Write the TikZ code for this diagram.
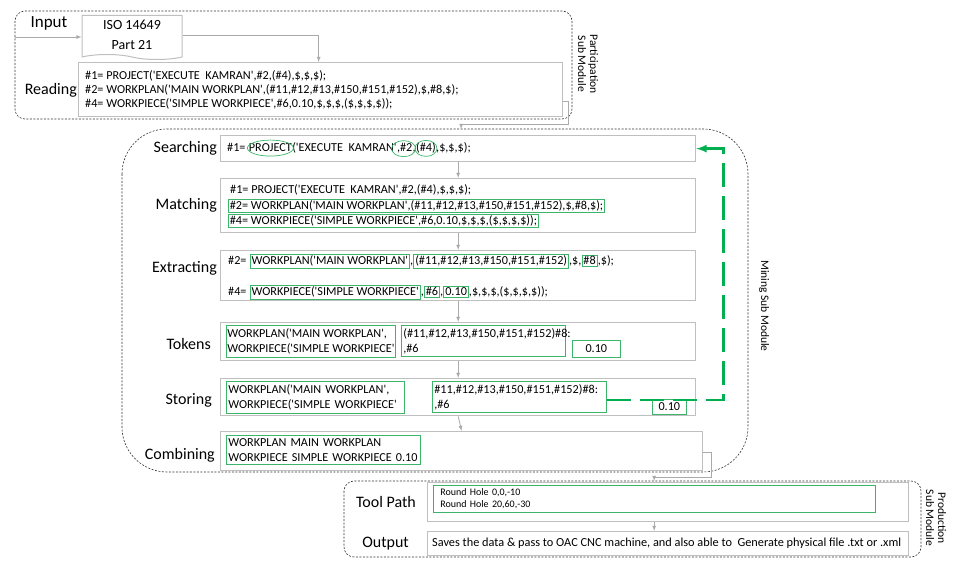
\documentclass[tikz,border=0pt]{standalone}
\usepackage{fontspec}
\setmainfont{Carlito}[Ligatures=TeXOff]
\usetikzlibrary{positioning,shapes.geometric,shapes.symbols}

\definecolor{boxgray}{RGB}{191,191,191}
\definecolor{arrgray}{RGB}{170,170,170}
\definecolor{tokgreen}{RGB}{60,180,105}
\definecolor{loopgreen}{RGB}{0,176,80}

\tikzset{
  grp/.style={draw=black!80, dash pattern=on 2pt off 1.5pt, line width=0.6pt},
  box/.style={draw=boxgray, line width=1.3pt, anchor=north west, inner sep=0pt},
  lbl/.style={font=\fontsize{16}{18}\selectfont, anchor=east, inner sep=0pt},
  txt/.style={font=\fontsize{12.2}{15}\selectfont, inner sep=0pt},
  gbox/.style={txt, draw=tokgreen, line width=0.7pt, inner sep=1.5pt},
  gpair/.style={gbox, anchor=north west, align=left, inner xsep=2pt, inner ysep=3pt},
  conn/.style={draw=arrgray, line width=0.8pt, ->},
  loopback/.style={draw=loopgreen, line width=2.5pt, dash pattern=on 24pt off 9pt, ->},
  side/.style={font=\fontsize{11.5}{12}\selectfont, rotate=-90, align=center},
}

\begin{document}
\begin{tikzpicture}[x=1pt,y=-1pt,>=latex]
\useasboundingbox (0,0) rectangle (954,561);

% participation
\draw[grp, rounded corners=10pt] (15,11) rectangle (572,119);
\node[side] (part) at (588,64) {Participation\\Sub Module};
\node[lbl, anchor=center, font=\fontsize{17}{20}\selectfont] (input) at (49,23) {Input};
\node[draw=boxgray, line width=1pt, fill=white, shape=tape, tape bend top=none, tape bend bottom=out and in, tape bend height=5pt,
  minimum width=100pt, minimum height=44pt, align=center, font=\fontsize{14}{20}\selectfont] (iso) at (132,35) {ISO 14649\\Part 21};
\coordinate (src) at (15,37);
\draw[conn] (src) -- (src -| iso.west);

\node[box, minimum width=484pt, minimum height=54pt] (read) at (78,62) {};
\node[lbl] (readlbl) at (77,90) {Reading};
\node[txt, anchor=west] (r1) at (85,76) {\#1= PROJECT('EXECUTE\ \ KAMRAN',\#2,(\#4),\$,\$,\$);};
\node[txt, anchor=west] (r2) at (85,90) {\#2= WORKPLAN('MAIN WORKPLAN',(\#11,\#12,\#13,\#150,\#151,\#152),\$,\#8,\$);};
\node[txt, anchor=west] (r3) at (85,104) {\#4= WORKPIECE('SIMPLE WORKPIECE',\#6,0.10,\$,\$,\$,(\$,\$,\$,\$));};
\draw[conn] (iso.east) -| ([xshift=-2pt]read.north);

% mining
\draw[grp, rounded corners=45pt] (122,129) rectangle (748,472);
\node[side] (mine) at (764,306) {Mining Sub Module};

\node[box, minimum width=475pt, minimum height=26pt] (search) at (220,135) {};
\node[lbl] (searchlbl) at (217,148) {Searching};
\node[txt, anchor=base west] (s1) at (227,152) {\#1=};
\node[txt, base right=3pt of s1] (s2) {PROJECT};
\node[txt, base right=0pt of s2] (s3) {('EXECUTE\ \ KAMRAN'};
\node[txt, base right=0pt of s3] (s4) {,\#2};
\node[txt, base right=0pt of s4] (s5) {,};
\node[txt, base right=0pt of s5] (s6) {(\#4)};
\node[txt, base right=0pt of s6] (s7) {,\$,\$,\$);};
\draw[tokgreen, line width=0.7pt] (s2.center) ellipse [x radius=23, y radius=8];
\draw[tokgreen, line width=0.7pt] ([xshift=-1pt]s4.center) ellipse [x radius=12, y radius=8];
\draw[tokgreen, line width=0.7pt] (s6.center) ellipse [x radius=11, y radius=8];
\draw[conn] ([yshift=-12pt]read.east) -- ++(5,0) |- ([xshift=3pt,yshift=11pt]search.north) -- ([xshift=3pt,yshift=6pt]search.north);

\node[box, minimum width=475pt, minimum height=54pt] (match) at (220,178) {};
\node[lbl] (matchlbl) at (217,205) {Matching};
\node[txt, anchor=west] (m1) at (230,190) {\#1= PROJECT('EXECUTE\ \ KAMRAN',\#2,(\#4),\$,\$,\$);};
\node[gbox, anchor=west] (m2) at (228,206) {\#2= WORKPLAN('MAIN WORKPLAN',(\#11,\#12,\#13,\#150,\#151,\#152),\$,\#8,\$);};
\node[gbox, anchor=west] (m3) at (228,221) {\#4= WORKPIECE('SIMPLE WORKPIECE',\#6,0.10,\$,\$,\$,(\$,\$,\$,\$));};
\draw[conn] (search.south) -- (match.north);

\node[box, minimum width=475pt, minimum height=50pt] (extract) at (220,250) {};
\node[lbl] (extractlbl) at (217,268) {Extracting};
\node[txt, anchor=base west] (e1) at (228,265) {\#2=};
\node[gbox, base right=3pt of e1] (e2) {WORKPLAN('MAIN WORKPLAN'};
\node[txt, base right=0pt of e2] (e3) {,};
\node[gbox, base right=0pt of e3] (e4) {(\#11,\#12,\#13,\#150,\#151,\#152)};
\node[txt, base right=0pt of e4] (e5) {,\$,};
\node[gbox, base right=0pt of e5] (e6) {\#8};
\node[txt, base right=0pt of e6] (e7) {,\$);};
\node[txt, anchor=base west] (x1) at (228,296) {\#4=};
\node[gbox, base right=3pt of x1] (x2) {WORKPIECE('SIMPLE WORKPIECE'};
\node[txt, base right=0pt of x2] (x3) {,};
\node[gbox, base right=0pt of x3] (x4) {\#6};
\node[txt, base right=0pt of x4] (x5) {,};
\node[gbox, base right=0pt of x5] (x6) {0.10};
\node[txt, base right=0pt of x6] (x7) {,\$,\$,\$,(\$,\$,\$,\$));};
\draw[conn] (match.south) -- (extract.north);

\node[box, minimum width=475pt, minimum height=38pt] (token) at (220,322) {};
\node[lbl] (tokenlbl) at (211,344) {Tokens};
\node[gpair, inner xsep=1pt] (t1) at (226,325) {WORKPLAN('MAIN WORKPLAN',\\WORKPIECE('SIMPLE WORKPIECE'};
\node[gpair, text width=160pt] (t2) at (401,325) {(\#11,\#12,\#13,\#150,\#151,\#152)\#8:\\,\#6};
\node[gbox, anchor=north west, minimum width=48pt, minimum height=17pt] (t3) at (572,340) {0.10};
\draw[conn] (extract.south) -- (token.north);

\node[box, minimum width=475pt, minimum height=37pt] (store) at (220,378) {};
\node[lbl] (storelbl) at (212,400) {Storing};
\node[gpair, text width=174pt] (st1) at (226,381) {WORKPLAN('MAIN WORKPLAN',\\WORKPIECE('SIMPLE WORKPIECE'};
\node[gpair, text width=170pt] (st2) at (432,381) {\#11,\#12,\#13,\#150,\#151,\#152)\#8:\\,\#6};
\node[gbox, anchor=north west, minimum width=34pt, minimum height=15pt] (st3) at (652,399) {0.10};
\draw[conn] (token.south) -- (store.north);
\draw[loopback] ([yshift=-3pt]st2.east) -| ([xshift=27pt]search.east) -- (search.east);

\node[box, minimum width=482pt, minimum height=39pt] (comb) at (220,431) {};
\node[lbl] (comblbl) at (215,455) {Combining};
\node[gpair, text width=190pt] (c1) at (226,435) {WORKPLAN MAIN WORKPLAN\\WORKPIECE SIMPLE WORKPIECE 0.10};
\draw[conn] (store.south) -- (comb.north);

% production
\draw[grp, rounded corners=10pt] (344,481) rectangle (921,557);
\node[side] (prod) at (936,518) {Production\\Sub Module};
\node[box, minimum width=481pt, minimum height=39pt] (tool) at (427,482) {};
\node[lbl] (toollbl) at (416,502) {Tool Path};
\node[gpair, text width=428pt, inner xsep=7pt, font=\fontsize{10}{12.5}\selectfont] (tp) at (433,485) {Round Hole 0,0,-10\\Round Hole 20,60,-30};
\node[box, minimum width=481pt, minimum height=24pt] (out) at (427,531) {};
\node[lbl] (outlbl) at (409,544) {Output};
\node[txt, anchor=west, font=\fontsize{12.3}{14}\selectfont] (outtxt) at (432,543) {Saves the data \& pass to OAC CNC machine, and also able to\ \ Generate physical file .txt or .xml};
\draw[conn] ([yshift=-1pt]comb.east) -- ++(8,0) |- ([xshift=-14pt,yshift=5pt]tool.north) -- ([xshift=-14pt,yshift=1pt]tool.north);
\draw[conn] ([xshift=-14pt]tool.south) -- ([xshift=-14pt]out.north);
\end{tikzpicture}
\end{document}
